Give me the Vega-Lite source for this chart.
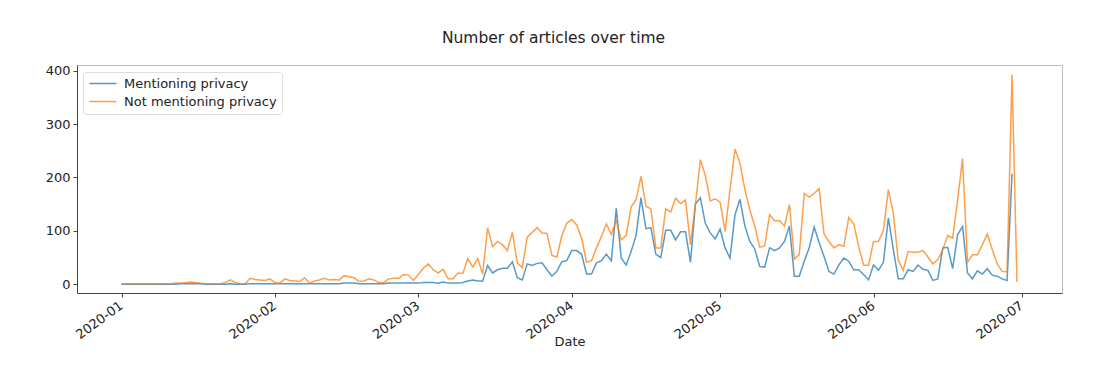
{
  "$schema": "https://vega.github.io/schema/vega-lite/v6.json",
  "width": 985,
  "height": 228,
  "autosize": {"type": "none"},
  "padding": {"left": 77, "top": 65, "right": 53, "bottom": 79},
  "background": "white",
  "title": {"text": "Number of articles over time", "font": "DejaVu Sans", "fontSize": 15.5, "fontWeight": "normal", "color": "#222", "baseline": "alphabetic", "offset": 6, "dx": -16, "anchor": "middle"},
  "data": {
    "format": {"parse": {"date": "utc:'%Y-%m-%d'"}},
    "values": [
      {"date":"2020-01-01","m":0,"n":1},{"date":"2020-01-02","m":0,"n":1},{"date":"2020-01-03","m":0,"n":1},{"date":"2020-01-04","m":0,"n":1},{"date":"2020-01-05","m":0,"n":1},{"date":"2020-01-06","m":0,"n":1},{"date":"2020-01-07","m":0,"n":1},{"date":"2020-01-08","m":0,"n":1},{"date":"2020-01-09","m":0,"n":1},{"date":"2020-01-10","m":0,"n":1},
      {"date":"2020-01-11","m":0,"n":1},{"date":"2020-01-12","m":0,"n":2},{"date":"2020-01-13","m":1,"n":2},{"date":"2020-01-14","m":1,"n":3},{"date":"2020-01-15","m":1,"n":4},{"date":"2020-01-16","m":1,"n":3},{"date":"2020-01-17","m":1,"n":2},{"date":"2020-01-18","m":0,"n":1},{"date":"2020-01-19","m":0,"n":1},{"date":"2020-01-20","m":0,"n":1},
      {"date":"2020-01-21","m":0,"n":1},{"date":"2020-01-22","m":0,"n":3},{"date":"2020-01-23","m":1,"n":8},{"date":"2020-01-24","m":0,"n":3},{"date":"2020-01-25","m":0,"n":1},{"date":"2020-01-26","m":0,"n":1},{"date":"2020-01-27","m":1,"n":11},{"date":"2020-01-28","m":1,"n":9},{"date":"2020-01-29","m":1,"n":8},{"date":"2020-01-30","m":1,"n":7},{"date":"2020-01-31","m":1,"n":10},
      {"date":"2020-02-01","m":1,"n":3},{"date":"2020-02-02","m":1,"n":2},{"date":"2020-02-03","m":1,"n":10},{"date":"2020-02-04","m":1,"n":7},{"date":"2020-02-05","m":1,"n":6},{"date":"2020-02-06","m":1,"n":5},{"date":"2020-02-07","m":1,"n":12},{"date":"2020-02-08","m":1,"n":2},{"date":"2020-02-09","m":1,"n":6},{"date":"2020-02-10","m":1,"n":8},
      {"date":"2020-02-11","m":1,"n":11},{"date":"2020-02-12","m":1,"n":8},{"date":"2020-02-13","m":1,"n":9},{"date":"2020-02-14","m":1,"n":8},{"date":"2020-02-15","m":2,"n":16},{"date":"2020-02-16","m":2,"n":14},{"date":"2020-02-17","m":2,"n":12},{"date":"2020-02-18","m":1,"n":5},{"date":"2020-02-19","m":1,"n":6},{"date":"2020-02-20","m":1,"n":10},
      {"date":"2020-02-21","m":1,"n":8},{"date":"2020-02-22","m":1,"n":3},{"date":"2020-02-23","m":1,"n":3},{"date":"2020-02-24","m":2,"n":10},{"date":"2020-02-25","m":2,"n":11},{"date":"2020-02-26","m":2,"n":11},{"date":"2020-02-27","m":2,"n":18},{"date":"2020-02-28","m":2,"n":17},{"date":"2020-02-29","m":2,"n":7},
      {"date":"2020-03-01","m":2,"n":18},{"date":"2020-03-02","m":3,"n":30},{"date":"2020-03-03","m":3,"n":38},{"date":"2020-03-04","m":3,"n":27},{"date":"2020-03-05","m":2,"n":21},{"date":"2020-03-06","m":4,"n":28},{"date":"2020-03-07","m":2,"n":10},{"date":"2020-03-08","m":2,"n":10},{"date":"2020-03-09","m":2,"n":21},{"date":"2020-03-10","m":3,"n":20},
      {"date":"2020-03-11","m":6,"n":48},{"date":"2020-03-12","m":8,"n":32},{"date":"2020-03-13","m":6,"n":48},{"date":"2020-03-14","m":6,"n":19},{"date":"2020-03-15","m":35,"n":106},{"date":"2020-03-16","m":21,"n":70},{"date":"2020-03-17","m":27,"n":80},{"date":"2020-03-18","m":30,"n":74},{"date":"2020-03-19","m":30,"n":63},{"date":"2020-03-20","m":42,"n":97},
      {"date":"2020-03-21","m":12,"n":40},{"date":"2020-03-22","m":8,"n":31},{"date":"2020-03-23","m":38,"n":88},{"date":"2020-03-24","m":35,"n":97},{"date":"2020-03-25","m":39,"n":106},{"date":"2020-03-26","m":40,"n":96},{"date":"2020-03-27","m":27,"n":95},{"date":"2020-03-28","m":15,"n":54},{"date":"2020-03-29","m":24,"n":51},{"date":"2020-03-30","m":42,"n":91},{"date":"2020-03-31","m":44,"n":114},
      {"date":"2020-04-01","m":63,"n":121},{"date":"2020-04-02","m":63,"n":111},{"date":"2020-04-03","m":56,"n":86},{"date":"2020-04-04","m":19,"n":41},{"date":"2020-04-05","m":19,"n":44},{"date":"2020-04-06","m":40,"n":68},{"date":"2020-04-07","m":44,"n":89},{"date":"2020-04-08","m":56,"n":113},{"date":"2020-04-09","m":44,"n":93},{"date":"2020-04-10","m":142,"n":119},
      {"date":"2020-04-11","m":49,"n":83},{"date":"2020-04-12","m":36,"n":91},{"date":"2020-04-13","m":61,"n":145},{"date":"2020-04-14","m":91,"n":158},{"date":"2020-04-15","m":162,"n":202},{"date":"2020-04-16","m":104,"n":146},{"date":"2020-04-17","m":106,"n":141},{"date":"2020-04-18","m":56,"n":68},{"date":"2020-04-19","m":50,"n":68},{"date":"2020-04-20","m":101,"n":141},
      {"date":"2020-04-21","m":101,"n":135},{"date":"2020-04-22","m":83,"n":161},{"date":"2020-04-23","m":98,"n":151},{"date":"2020-04-24","m":98,"n":158},{"date":"2020-04-25","m":41,"n":74},{"date":"2020-04-26","m":150,"n":149},{"date":"2020-04-27","m":162,"n":233},{"date":"2020-04-28","m":114,"n":204},{"date":"2020-04-29","m":96,"n":156},{"date":"2020-04-30","m":85,"n":160},
      {"date":"2020-05-01","m":103,"n":153},{"date":"2020-05-02","m":68,"n":99},{"date":"2020-05-03","m":49,"n":177},{"date":"2020-05-04","m":130,"n":253},{"date":"2020-05-05","m":159,"n":227},{"date":"2020-05-06","m":109,"n":177},{"date":"2020-05-07","m":80,"n":139},{"date":"2020-05-08","m":66,"n":109},{"date":"2020-05-09","m":33,"n":69},{"date":"2020-05-10","m":32,"n":72},
      {"date":"2020-05-11","m":68,"n":130},{"date":"2020-05-12","m":63,"n":119},{"date":"2020-05-13","m":68,"n":119},{"date":"2020-05-14","m":80,"n":109},{"date":"2020-05-15","m":109,"n":149},{"date":"2020-05-16","m":15,"n":47},{"date":"2020-05-17","m":15,"n":56},{"date":"2020-05-18","m":43,"n":170},{"date":"2020-05-19","m":68,"n":163},{"date":"2020-05-20","m":107,"n":170},
      {"date":"2020-05-21","m":78,"n":179},{"date":"2020-05-22","m":52,"n":94},{"date":"2020-05-23","m":24,"n":80},{"date":"2020-05-24","m":19,"n":68},{"date":"2020-05-25","m":36,"n":74},{"date":"2020-05-26","m":49,"n":71},{"date":"2020-05-27","m":43,"n":125},{"date":"2020-05-28","m":27,"n":113},{"date":"2020-05-29","m":27,"n":71},{"date":"2020-05-30","m":18,"n":36},{"date":"2020-05-31","m":8,"n":35},
      {"date":"2020-06-01","m":36,"n":80},{"date":"2020-06-02","m":26,"n":80},{"date":"2020-06-03","m":41,"n":101},{"date":"2020-06-04","m":124,"n":177},{"date":"2020-06-05","m":65,"n":133},{"date":"2020-06-06","m":10,"n":45},{"date":"2020-06-07","m":10,"n":26},{"date":"2020-06-08","m":27,"n":61},{"date":"2020-06-09","m":24,"n":60},{"date":"2020-06-10","m":36,"n":60},
      {"date":"2020-06-11","m":28,"n":63},{"date":"2020-06-12","m":26,"n":51},{"date":"2020-06-13","m":7,"n":38},{"date":"2020-06-14","m":10,"n":46},{"date":"2020-06-15","m":68,"n":65},{"date":"2020-06-16","m":69,"n":91},{"date":"2020-06-17","m":29,"n":86},{"date":"2020-06-18","m":93,"n":158},{"date":"2020-06-19","m":108,"n":235},{"date":"2020-06-20","m":21,"n":41},
      {"date":"2020-06-21","m":10,"n":55},{"date":"2020-06-22","m":25,"n":55},{"date":"2020-06-23","m":19,"n":74},{"date":"2020-06-24","m":29,"n":94},{"date":"2020-06-25","m":17,"n":65},{"date":"2020-06-26","m":15,"n":38},{"date":"2020-06-27","m":10,"n":24},{"date":"2020-06-28","m":7,"n":23},{"date":"2020-06-29","m":207,"n":392},{"date":"2020-06-30","m":null,"n":4}
    ]
  },
  "transform": [{"fold": ["m", "n"], "as": ["series", "count"]}],
  "mark": {"type": "line", "strokeWidth": 1.5, "opacity": 0.75},
  "encoding": {
    "x": {
      "field": "date", "type": "temporal", "title": "Date",
      "scale": {"type": "utc", "domain": [{"year": 2019, "month": 12, "date": 23, "utc": true}, {"year": 2020, "month": 7, "date": 9, "hours": 2, "minutes": 24, "utc": true}]},
      "axis": {
        "values": [{"year": 2020, "month": 1, "date": 1, "utc": true}, {"year": 2020, "month": 2, "date": 1, "utc": true}, {"year": 2020, "month": 3, "date": 1, "utc": true}, {"year": 2020, "month": 4, "date": 1, "utc": true}, {"year": 2020, "month": 5, "date": 1, "utc": true}, {"year": 2020, "month": 6, "date": 1, "utc": true}, {"year": 2020, "month": 7, "date": 1, "utc": true}],
        "labelExpr": "utcFormat(datum.value, '%Y-%m')",
        "labelAngle": -36, "labelAlign": "right", "labelBaseline": "top", "labelPadding": 2, "labelOffset": -4,
        "titlePadding": -6
      }
    },
    "y": {
      "field": "count", "type": "quantitative", "title": null,
      "scale": {"domain": [-16.5, 410.5], "nice": false, "zero": false},
      "axis": {"values": [0, 100, 200, 300, 400], "labelPadding": 3}
    },
    "color": {
      "field": "series", "type": "nominal",
      "scale": {"domain": ["m", "n"], "range": ["#1f77b4", "#ff7f0e"]},
      "legend": {
        "title": null, "orient": "none", "legendX": 6, "legendY": 7,
        "labelExpr": "datum.label == 'm' ? 'Mentioning privacy' : 'Not mentioning privacy'",
        "symbolType": "M-1,0H4.4", "symbolSize": 100, "symbolStrokeWidth": 1.5,
        "labelOffset": 23, "labelFontSize": 13, "labelFont": "DejaVu Sans", "labelColor": "#222",
        "rowPadding": 4, "padding": 5, "strokeColor": "#ddd", "fillColor": "white", "cornerRadius": 3
      }
    }
  },
  "config": {
    "font": "DejaVu Sans",
    "view": {"stroke": "#bbb", "strokeWidth": 1},
    "axis": {
      "grid": false, "domainColor": "#444", "tickColor": "#444", "tickSize": 4,
      "labelFont": "DejaVu Sans", "labelFontSize": 13, "labelColor": "#222",
      "titleFont": "DejaVu Sans", "titleFontSize": 13, "titleFontWeight": "normal", "titleColor": "#222"
    }
  }
}
